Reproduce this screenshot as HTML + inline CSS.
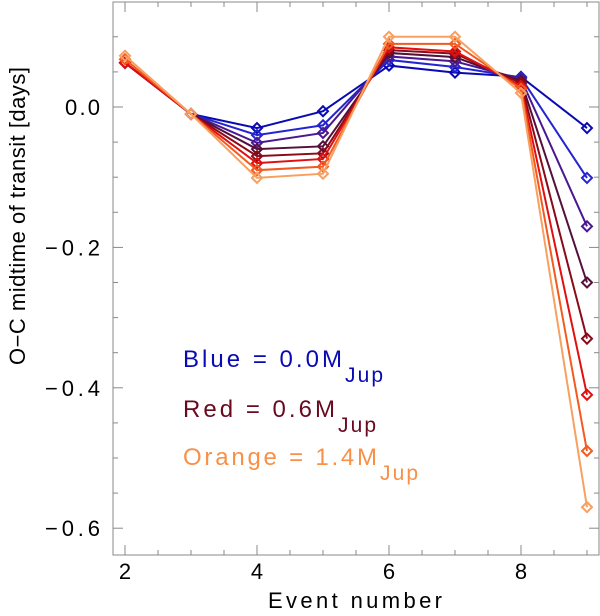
<!DOCTYPE html>
<html><head><meta charset="utf-8"><style>
body{margin:0;background:#fff;}
svg text{font-family:"Liberation Sans","DejaVu Sans",sans-serif;}
</style></head><body>
<svg id="chart" width="600" height="611" xmlns="http://www.w3.org/2000/svg"></svg>
<script>
const events = [2,3,4,5,6,7,8,9];
const seriesColors = ["#0a0ab4","#2424d0","#4a1890","#55103a","#8a0a18","#e01010","#f25a20","#f8a060"];
const s0 = [0.063,-0.010,-0.030,-0.006,0.059,0.049,0.043,-0.030];
const s1 = [0.063,-0.010,-0.040,-0.026,0.067,0.057,0.042,-0.101];
const s2 = [0.063,-0.010,-0.051,-0.037,0.072,0.065,0.040,-0.170];
const s3 = [0.063,-0.010,-0.060,-0.056,0.077,0.071,0.037,-0.250];
const s4 = [0.063,-0.010,-0.070,-0.066,0.081,0.076,0.034,-0.330];
const s5 = [0.063,-0.010,-0.080,-0.074,0.085,0.079,0.030,-0.410];
const s6 = [0.068,-0.010,-0.090,-0.085,0.090,0.090,0.026,-0.490];
const s7 = [0.073,-0.010,-0.101,-0.095,0.100,0.100,0.020,-0.570];
const seriesValues = [s0,s1,s2,s3,s4,s5,s6,s7];
const xTicks = [2,4,6,8];
const yTicks = [0.0,-0.2,-0.4,-0.6];
const yTickLabels = ["0.0","\u22120.2","\u22120.4","\u22120.6"];

const L=113,R=599,T=2,B=555;
const xs = v => 125 + (v-2)*66;
const ys = v => 107 - v*702;
const svg = document.getElementById('chart');
const NS='http://www.w3.org/2000/svg';
function mk(tag, attrs, parent){const e=document.createElementNS(NS,tag);for(const k in attrs)e.setAttribute(k,attrs[k]);(parent||svg).appendChild(e);return e;}

const frame = mk('rect',{x:L,y:T,width:R-L,height:B-T,fill:'none',stroke:'#888','stroke-width':1});



for(let v=2;v<=9.01;v+=0.5){
  const major = Math.abs(v-Math.round(v/2)*2)<1e-6;
  const len = major?10:5;
  const x=xs(v);
  const t1=mk('line',{x1:x,x2:x,y1:B,y2:B-len,stroke:'#888'});
  
  
  const t2=mk('line',{x1:x,x2:x,y1:T,y2:T+len,stroke:'#888'});
  
  
}
for(let k=-12;k<=2;k++){
  const v=k*0.05;
  const major = k%4===0;
  const len = major?10:5;
  const y=ys(v);
  if(y<T||y>B)continue;
  const t1=mk('line',{x1:L,x2:L+len,y1:y,y2:y,stroke:'#888'});
  
  
  const t2=mk('line',{x1:R,x2:R-len,y1:y,y2:y,stroke:'#888'});
  
  
}
xTicks.forEach(v=>{
  const t=mk('text',{x:xs(v),y:579,'text-anchor':'middle','font-size':22});
  t.textContent=v;
  
  
});
yTicks.forEach((v,i)=>{
  const w = yTickLabels[i].length===3?35:55;
  const t=mk('text',{x:100-w,y:ys(v)+8,'font-size':22,textLength:w,lengthAdjust:'spacing'});
  t.textContent=yTickLabels[i];
  
  
});
const xt=mk('text',{x:268,y:608,'font-size':22,textLength:174,lengthAdjust:'spacing'});
xt.textContent='Event number';


const yt=mk('text',{x:0,y:0,'font-size':22,textLength:298,lengthAdjust:'spacing',transform:'translate(25,365) rotate(-90)'});
yt.textContent='O\u2212C midtime of transit [days]';



seriesValues.forEach((vals,i)=>{
  const g=mk('g',{});
  
  
  const pts=vals.map((v,j)=>xs(events[j])+','+ys(v)).join(' ');
  const pl=mk('polyline',{points:pts,fill:'none',stroke:seriesColors[i],'stroke-width':2},g);
  
  
  vals.forEach((v,j)=>{
    const x=xs(events[j]),y=ys(v),d=5;
    const m=mk('polygon',{points:`${x},${y-d} ${x+d},${y} ${x},${y+d} ${x-d},${y}`,fill:'none',stroke:seriesColors[i],'stroke-width':2},g);
    
    
  });
});

const legend=[["Blue = 0.0M","#0a0ab4",367,159],["Red = 0.6M","#6a0a20",417,152],["Orange = 1.4M","#f89048",465,194]];
legend.forEach(([txt,c,y,w])=>{
  const t=mk('text',{x:183,y:y,'font-size':24,fill:c,textLength:w,lengthAdjust:'spacing'});
  t.textContent=txt;
  
  
  const s=mk('text',{x:183+w+3,y:y+15,'font-size':21,fill:c,textLength:38,lengthAdjust:'spacing'});
  s.textContent='Jup';
  
  
});
</script>
</body></html>
